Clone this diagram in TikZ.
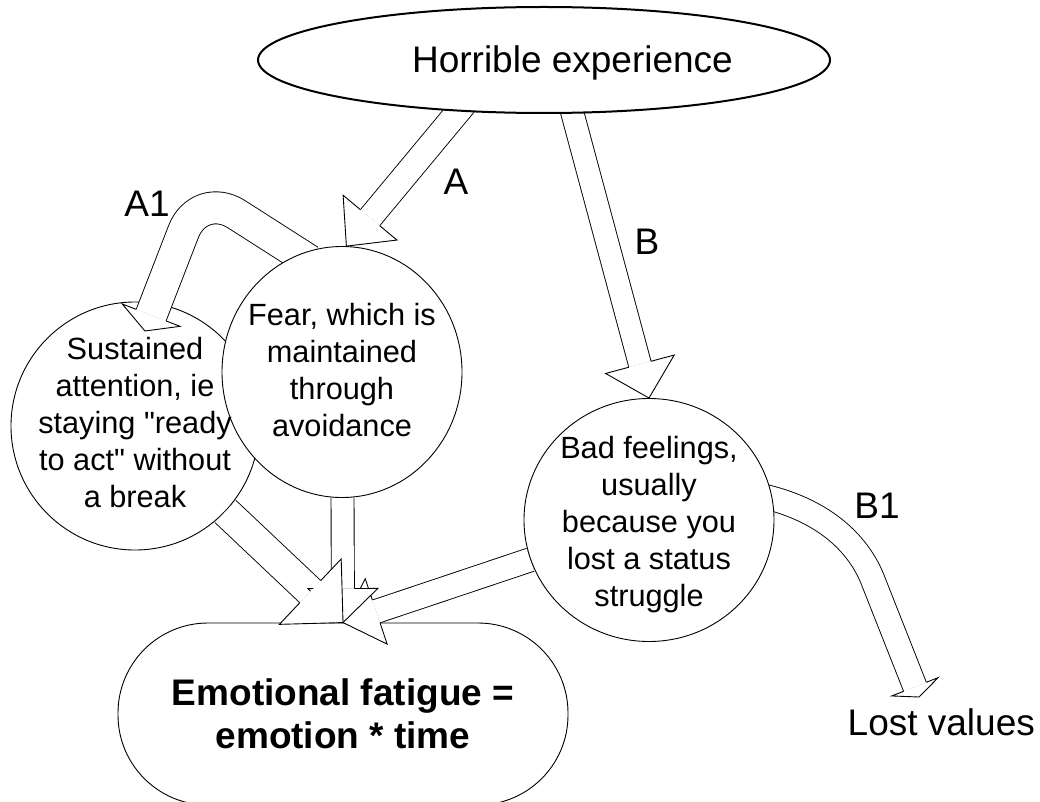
\documentclass[tikz,border=0pt]{standalone}
\usepackage{fontspec}
\newfontfamily\lsans{Liberation Sans}
\usetikzlibrary{shapes.geometric,calc}
\pgfdeclarelayer{susl}
\pgfdeclarelayer{shaftl}
\pgfdeclarelayer{front}
\pgfdeclarelayer{textl}
\pgfsetlayers{susl,shaftl,main,front,textl}
% #1 head base, #2 tip, #3 shaft half width, #4 head half width
\newcommand\blockhead[4]{%
  \path[headst] ($(#1)!#3!90:(#2)$) -- ($(#1)!#4!90:(#2)$) -- (#2)
    -- ($(#1)!#4!-90:(#2)$) -- ($(#1)!#3!-90:(#2)$);}
\begin{document}
\begin{tikzpicture}[x=1pt,y=-1pt,
  lw/.style={line width=0.9pt},
  circ/.style={ellipse, draw=black, lw, fill=white, inner sep=0pt},
  ctext/.style={align=center, font=\lsans\fontsize{30.7}{37}\selectfont, inner sep=0pt},
  lbl/.style={font=\lsans\fontsize{37}{44}\selectfont, inner sep=0pt, anchor=base},
  shaft/.style={draw=black, lw, double=white, double distance=#1},
  headst/.style={fill=white, draw=black, lw, line join=miter},
]
\useasboundingbox (0,0) rectangle (1040,802);

% ---- nodes ----
\begin{pgfonlayer}{susl}
\node[circ, minimum width=248pt, minimum height=248pt] (sus) at (135,426) {};
\end{pgfonlayer}
\node[circ, minimum width=240pt, minimum height=251pt,
  label={[ctext, yshift=1.5pt]center:{Fear, which is\\maintained\\through\\avoidance}}] (fear) at (342,372) {};
\node[ellipse, draw=black, line width=2pt, fill=white, inner sep=0pt,
  minimum width=572pt, minimum height=106pt,
  label={[font=\lsans\fontsize{37}{44}\selectfont, inner sep=0pt, xshift=28.5pt, yshift=-3.4pt]center:Horrible experience}] (top) at (544,60) {};
\node[circ, minimum width=250pt, minimum height=243pt,
  label={[ctext, yshift=-4.7pt]center:{Bad feelings,\\usually\\because you\\lost a status\\struggle}}] (bad) at (649,520) {};
\node[draw=black, lw, fill=white, rounded corners=90pt, minimum width=450pt, minimum height=182pt,
  align=center, font=\lsans\bfseries\fontsize{37}{43}\selectfont] (bottom) at (343,714) {Emotional fatigue =\\emotion * time};

\node[lbl] (la) at (456,195) {A};
\node[lbl] (la1) at (147,217) {A1};
\node[lbl] (lb) at (647,254) {B};
\node[lbl] (lb1) at (877,518) {B1};
\node[lbl, anchor=base west] (lost) at (847.5,735) {Lost values};

\begin{pgfonlayer}{textl}
\node[ctext] (stext) at ($(sus.center)+(0,-3)$) {Sustained\\attention, ie\\staying "ready\\to act" without\\a break};
\end{pgfonlayer}

% ---- geometry of connectors ----
\coordinate (b1) at ($(bottom.north)!45pt!(sus.center)$);
\coordinate (b2) at ($(bottom.north)!34pt!(fear.center)$);
\coordinate (b3) at ($(bottom.north)!35pt!(bad.center)$);
\coordinate (tA) at (fear.88);
\coordinate (bA) at ($(tA)!37pt!(top.211)$);
\coordinate (sA) at ($(top.211)!-15pt!(tA)$);
\coordinate (tB) at (bad.north);
\coordinate (bB) at ($(tB)!35pt!(top.298)$);
\coordinate (sB) at ($(top.298)!-15pt!(tB)$);
\coordinate (a1v) at (199.4,190.5);
\coordinate (a1t) at (145,331);
\coordinate (a1e) at ($(a1t)!17pt!(a1v)$);
\coordinate (a1s) at ($(fear.110)!-12pt!(a1v)$);
\coordinate (b1c1) at (821,509);
\coordinate (b1c2) at (856.5,541);
\coordinate (b1m) at (872,578);
\coordinate (b1t) at (919,697);
\coordinate (b1e) at ($(b1t)!11pt!(b1m)$);
\coordinate (b1s) at ($(bad.10)!-12pt!(b1c1)$);

% ---- shafts ----
\begin{pgfonlayer}{shaftl}
\draw[shaft=29.5pt] (sus) -- (b1);
\draw[shaft=22.1pt] (fear) -- (b2);
\draw[shaft=23.1pt] (bad) -- (b3);
\draw[shaft=24.1pt] (sA) -- (bA);
\draw[shaft=22.1pt] (sB) -- (bB);
\draw[shaft=31.1pt, rounded corners=44pt] (a1s) -- (a1v) -- (a1e);
\draw[shaft=23.5pt] (b1s) .. controls (b1c1) and (b1c2) .. (b1m) -- (b1e);
\end{pgfonlayer}

% ---- heads ----
\begin{pgfonlayer}{front}
\blockhead{b3}{bottom.north}{12pt}{34.5pt}
\blockhead{b2}{bottom.north}{11.5pt}{35pt}
\blockhead{b1}{bottom.north}{15.2pt}{45pt}
\blockhead{bA}{tA}{12.5pt}{35pt}
\blockhead{bB}{tB}{11.5pt}{35.5pt}
\blockhead{a1e}{a1t}{16pt}{31pt}
\blockhead{b1e}{b1t}{12.2pt}{25pt}
\end{pgfonlayer}
\end{tikzpicture}
\end{document}
